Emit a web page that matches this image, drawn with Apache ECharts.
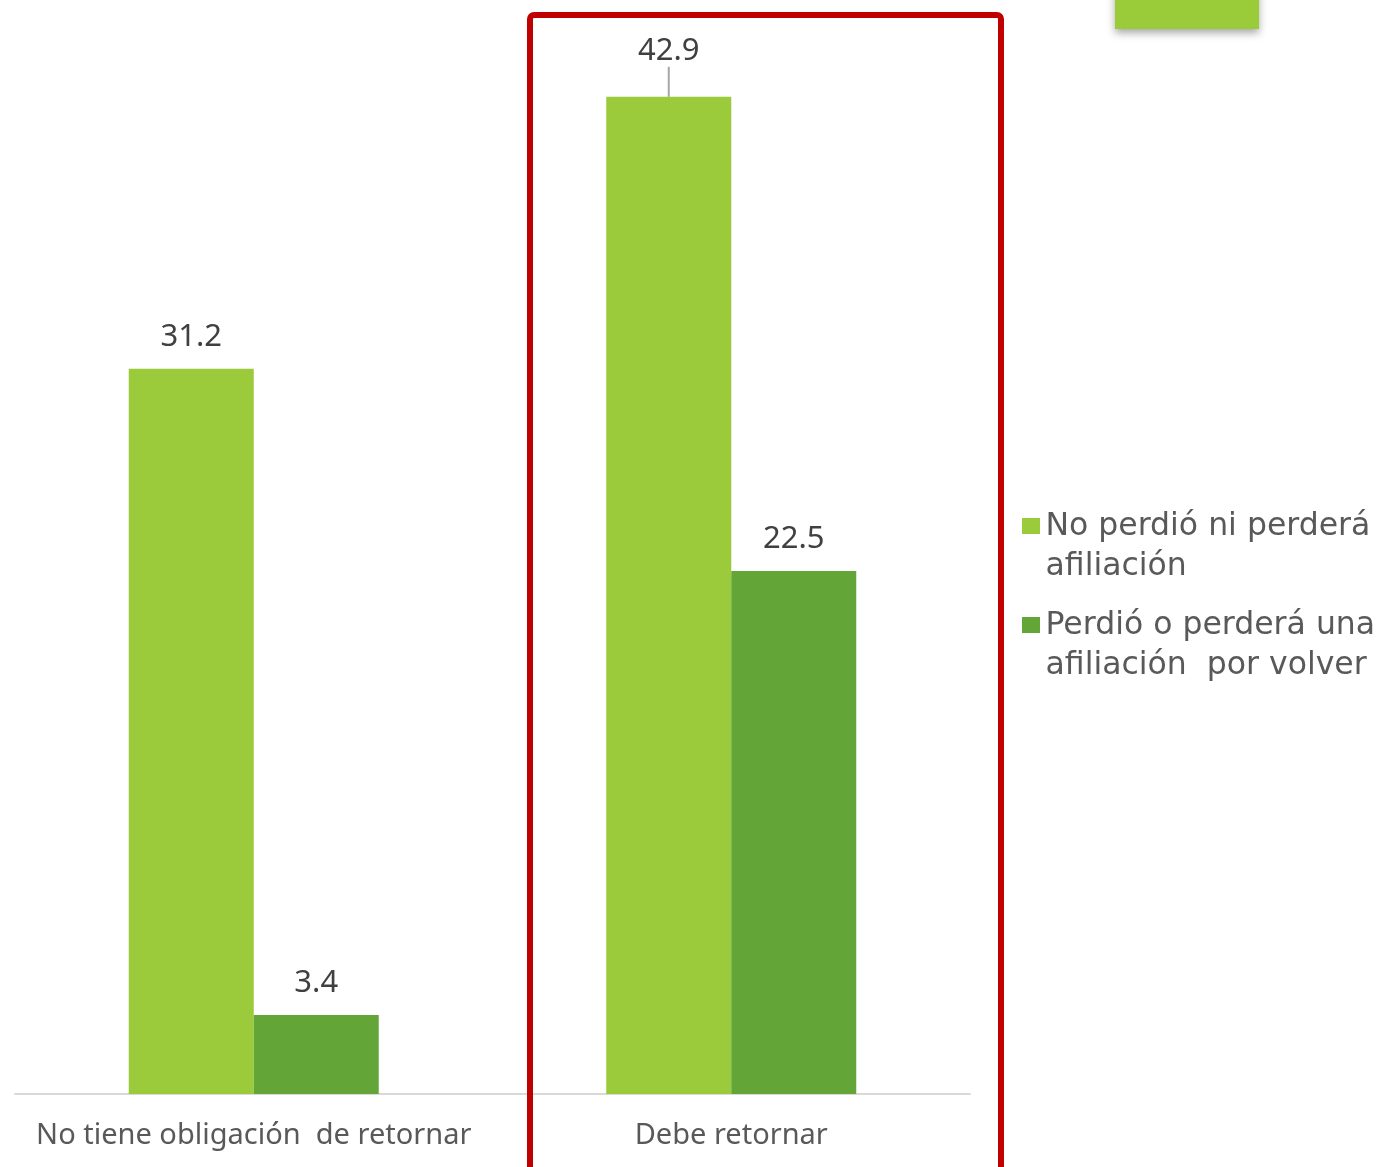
<!DOCTYPE html>
<html><head><meta charset="utf-8">
<script src="https://cdn.jsdelivr.net/npm/echarts@6/dist/echarts.min.js"></script>
<style>html,body{margin:0;padding:0;background:#fff}#c{width:1383px;height:1167px}</style>
</head><body><div id="c"></div>
<script>
const categories = ['No tiene obligación  de retornar', 'Debe retornar'];
const seriesNames = ['No perdió ni perderá\nafiliación', 'Perdió o perderá una\nafiliación  por volver'];
const noPerdio = [31.2, 42.9];
const perdio = [3.4, 22.5];

const FONT = '"Noto Sans", "DejaVu Sans", sans-serif';
const chart = echarts.init(document.getElementById('c'));
const legendIcon = 'path://M0,0h0.01 M0,11h18v16h-18z M0,80h0.01';

chart.setOption({
  animation: false,
  grid: {left: 15, right: 413, top: 48, bottom: 73},
  legend: {
    orient: 'vertical', left: 1022, top: 507, itemGap: 19, padding: 0,
    itemWidth: 19, itemHeight: 80, icon: legendIcon, selectedMode: false,
    textStyle: {fontFamily: '"DejaVu Sans", sans-serif', fontSize: 31.5, color: '#595959', lineHeight: 40}
  },
  xAxis: {
    type: 'category', data: categories,
    axisLine: {lineStyle: {color: '#D9D9D9', width: 2}},
    axisTick: {show: false},
    axisLabel: {interval: 0, fontFamily: FONT, fontSize: 29, color: '#595959', margin: 27}
  },
  yAxis: {type: 'value', min: 0, max: 45, show: false, splitLine: {show: false}},
  series: [
    {
      name: seriesNames[0], type: 'bar', barWidth: 125, barGap: '0%',
      itemStyle: {color: '#9BCB3B'},
      data: noPerdio.map((v, i) => i === 1 ? {value: v, labelLine: {show: true, lineStyle: {color: '#A6A6A6', width: 2}}} : v),
      label: {show: true, position: 'top', distance: 16, fontFamily: FONT, fontSize: 31, color: '#404040'},
      labelLayout: function (p) { return p.dataIndex === 1 ? {dy: -14} : {}; }
    },
    {
      name: seriesNames[1], type: 'bar', barWidth: 125, barGap: '0%',
      itemStyle: {color: '#63A537'},
      data: perdio,
      label: {show: true, position: 'top', distance: 16, fontFamily: FONT, fontSize: 31, color: '#404040'}
    }
  ],
  graphic: [
    {type: 'rect', shape: {x: 530, y: 15, width: 471, height: 1200, r: 4},
     style: {fill: 'none', stroke: '#C00000', lineWidth: 6}, z: 100},
    {type: 'rect', shape: {x: 1115, y: -20, width: 144, height: 49},
     style: {fill: '#9ACC3A', shadowBlur: 8, shadowOffsetY: 4, shadowColor: 'rgba(0,0,0,0.35)'}, z: 100}
  ]
});
</script></body></html>
